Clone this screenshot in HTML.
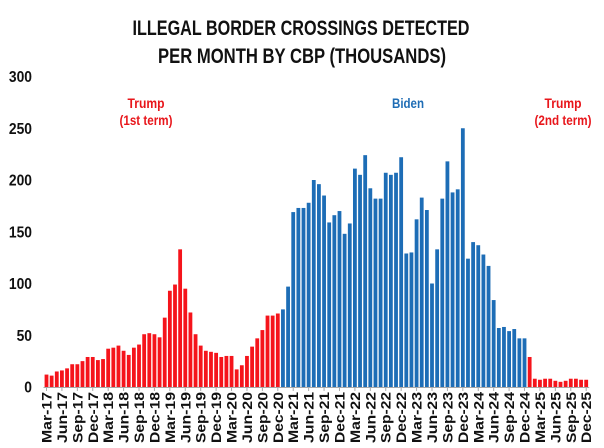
<!DOCTYPE html>
<html><head><meta charset="utf-8"><style>
html,body{margin:0;padding:0;background:#fff;}
svg{display:block;font-family:"Liberation Sans Narrow","Liberation Sans",sans-serif;font-weight:bold;}
</style></head><body>
<svg id="chart" width="604" height="448" viewBox="0 0 604 448">
<text x="301" y="35" text-anchor="middle" font-size="21" fill="#111" textLength="337" lengthAdjust="spacingAndGlyphs">ILLEGAL BORDER CROSSINGS DETECTED</text>
<text x="302" y="63" text-anchor="middle" font-size="21" fill="#111" textLength="288" lengthAdjust="spacingAndGlyphs">PER MONTH BY CBP (THOUSANDS)</text>
<text x="146" y="108" text-anchor="middle" font-size="14" fill="#e8161b" textLength="37" lengthAdjust="spacingAndGlyphs">Trump</text>
<text x="146" y="125" text-anchor="middle" font-size="14" fill="#e8161b" textLength="53" lengthAdjust="spacingAndGlyphs">(1st term)</text>
<text x="408" y="108" text-anchor="middle" font-size="14" fill="#1f6db5" textLength="32" lengthAdjust="spacingAndGlyphs">Biden</text>
<text x="563" y="108" text-anchor="middle" font-size="14" fill="#e8161b" textLength="37" lengthAdjust="spacingAndGlyphs">Trump</text>
<text x="563" y="125" text-anchor="middle" font-size="14" fill="#e8161b" textLength="57" lengthAdjust="spacingAndGlyphs">(2nd term)</text>
<g id="bars"></g><g id="yaxis"></g><g id="xaxis"></g>
</svg>
<script>
const trump1Values=[12,11,15,16,18,22,22,25,29,29,26,27,37,38,40,35,31,38,41,51,52,51,48,67,93,99,133,95,72,51,40,35,34,33,29,30,30,17,21,30,39,47,55,69,69,71];
const bidenValues=[75,97,169,173,173,178,200,196,185,159,166,170,148,158,211,205,224,192,182,182,207,205,207,222,129,130,162,183,171,100,133,182,218,188,191,250,124,140,137,128,117,84,57,58,54,56,47,47];
const trump2Values=[29,8,7,8,8,6,5,6,8,8,7,7];
const yTicks=[0,50,100,150,200,250,300];
const monthNames=["Jan","Feb","Mar","Apr","May","Jun","Jul","Aug","Sep","Oct","Nov","Dec"];
const NS="http://www.w3.org/2000/svg";
const zeroY=387, pxPerUnit=1.035, x0=46.5, step=5.14, bw=3.8;
function yScale(v){return zeroY-v*pxPerUnit;}
function xScale(i){return x0+i*step;}
const all=[];
trump1Values.forEach(v=>all.push([v,"#f5141b"]));
bidenValues.forEach(v=>all.push([v,"#1d6db6"]));
trump2Values.forEach(v=>all.push([v,"#f5141b"]));
const bars=document.getElementById("bars");
all.forEach((d,i)=>{
  const r=document.createElementNS(NS,"rect");
  r.setAttribute("x",(xScale(i)-bw/2).toFixed(2));
  r.setAttribute("y",yScale(d[0]).toFixed(2));
  r.setAttribute("width",bw);
  r.setAttribute("height",(d[0]*pxPerUnit).toFixed(2));
  r.setAttribute("fill",d[1]);
  
  
  bars.appendChild(r);
});
const ya=document.getElementById("yaxis");
yTicks.forEach(t=>{
  const tx=document.createElementNS(NS,"text");
  tx.setAttribute("x",32);tx.setAttribute("y",yScale(t)+5.5);
  tx.setAttribute("text-anchor","end");tx.setAttribute("font-size","16");tx.setAttribute("fill","#111");
  const len=String(t).length*7.7;
  tx.setAttribute("textLength",len);tx.setAttribute("lengthAdjust","spacingAndGlyphs");
  tx.textContent=t;
  
  
  ya.appendChild(tx);
});
const xa=document.getElementById("xaxis");
const ln=document.createElementNS(NS,"line");
ln.setAttribute("x1",xScale(0)-3);ln.setAttribute("x2",xScale(all.length-1)+3);
ln.setAttribute("y1",zeroY+0.5);ln.setAttribute("y2",zeroY+0.5);ln.setAttribute("stroke","#aaa");


xa.appendChild(ln);
for(let i=0;i<all.length;i+=3){
  const m=(2+i)%12, yr=17+Math.floor((2+i)/12);
  const tx=document.createElementNS(NS,"text");
  const x=xScale(i)+5, y=392;
  tx.setAttribute("transform","translate("+x+","+y+") rotate(-90)");
  tx.setAttribute("text-anchor","end");tx.setAttribute("font-size","14");tx.setAttribute("fill","#111");
  tx.setAttribute("textLength","51");tx.setAttribute("lengthAdjust","spacingAndGlyphs");
  tx.textContent=monthNames[m]+"-"+yr;
  
  
  xa.appendChild(tx);
  const tk=document.createElementNS(NS,"line");
  tk.setAttribute("x1",xScale(i));tk.setAttribute("x2",xScale(i));
  tk.setAttribute("y1",zeroY);tk.setAttribute("y2",zeroY+4);tk.setAttribute("stroke","#aaa");
  
  
  xa.appendChild(tk);
}
</script>
</body></html>
